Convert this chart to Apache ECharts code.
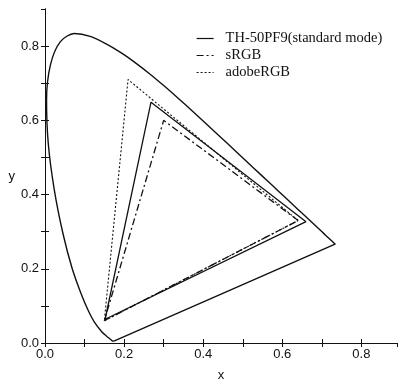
<!DOCTYPE html>
<html>
<head>
<meta charset="utf-8">
<script src="https://cdn.jsdelivr.net/npm/echarts@6/dist/echarts.min.js"></script>
<style>
  html, body { margin: 0; padding: 0; background: #fff; }
  #chart { width: 398px; height: 381px; }
</style>
</head>
<body>
<div id="chart"></div>
<script>
// spectral locus (CIE 1931), 380 -> 700 nm
const locusX = [0.1741, 0.1733, 0.1714, 0.1689, 0.1644, 0.1566, 0.1440, 0.1241, 0.1096, 0.0913,
  0.0687, 0.0454, 0.0235, 0.0082, 0.0039, 0.0139, 0.0389, 0.0743, 0.1142, 0.1547, 0.1929,
  0.2296, 0.2658, 0.3016, 0.3373, 0.3731, 0.4087, 0.4441, 0.4788, 0.5125, 0.5448, 0.5752,
  0.6029, 0.6270, 0.6482, 0.6658, 0.6915, 0.7079, 0.7190, 0.7260, 0.7300, 0.7334, 0.7347];
const locusY = [0.0050, 0.0048, 0.0051, 0.0069, 0.0109, 0.0177, 0.0297, 0.0578, 0.0868, 0.1327,
  0.2007, 0.2950, 0.4127, 0.5384, 0.6548, 0.7502, 0.8120, 0.8338, 0.8262, 0.8059, 0.7816,
  0.7543, 0.7243, 0.6923, 0.6589, 0.6245, 0.5896, 0.5547, 0.5202, 0.4866, 0.4544, 0.4242,
  0.3965, 0.3725, 0.3514, 0.3340, 0.3083, 0.2920, 0.2809, 0.2740, 0.2700, 0.2666, 0.2653];

// gamut triangles: R, G, B, back to R
const thX = [0.66, 0.268, 0.152, 0.66];
const thY = [0.327, 0.649, 0.064, 0.327];
const srgbX = [0.64, 0.30, 0.15, 0.64];
const srgbY = [0.33, 0.60, 0.06, 0.33];
const adobeX = [0.64, 0.21, 0.15, 0.64];
const adobeY = [0.33, 0.71, 0.06, 0.33];

const seriesNames = ['TH-50PF9(standard mode)', 'sRGB', 'adobeRGB'];

function pairs(xs, ys) {
  return xs.map((x, i) => [x, ys[i]]);
}

const locus = pairs(locusX, locusY);
locus.push(locus[0]); // close with the purple line

const axisFont = { fontFamily: 'Liberation Sans', fontSize: 13, color: '#111' };
const evenLabel = v => (Math.round(v * 10) % 2 === 0 ? v.toFixed(1) : '');

const chart = echarts.init(document.getElementById('chart'));
chart.setOption({
  animation: false,
  grid: { left: 45, right: 1, top: 9, bottom: 38, outerBoundsMode: 'none' },
  legend: {
    orient: 'vertical',
    left: 191,
    top: 26,
    itemWidth: 17,
    itemHeight: 10,
    itemGap: 2,
    itemStyle: { opacity: 0 },
    lineStyle: { width: 1.2 },
    textStyle: { fontFamily: 'Liberation Serif', fontSize: 14.5, color: '#111', padding: [0, 0, 0, 7] },
    data: seriesNames
  },
  xAxis: [{
    type: 'value', min: 0, max: 0.89, interval: 0.1,
    name: 'x', nameLocation: 'middle', nameGap: 26, nameTextStyle: axisFont,
    axisLine: { lineStyle: { color: '#111', width: 1 } },
    axisTick: { inside: true, length: 4, lineStyle: { color: '#111' } },
    axisLabel: Object.assign({ formatter: evenLabel, margin: 5, showMaxLabel: false }, axisFont),
    splitLine: { show: false }
  }, {
    type: 'value', position: 'top', min: 0, max: 0.89, interval: 0.1,
    axisLine: { show: true, lineStyle: { color: '#111', width: 1 } },
    axisTick: { inside: true, length: 4, lineStyle: { color: '#111' } },
    axisLabel: { show: false },
    splitLine: { show: false }
  }],
  yAxis: [{
    type: 'value', min: 0, max: 0.9, interval: 0.1,
    name: 'y', nameLocation: 'middle', nameGap: 29, nameRotate: 0, nameTextStyle: axisFont,
    axisLine: { show: true, lineStyle: { color: '#111', width: 1 } },
    axisTick: { show: true, inside: true, length: 4, lineStyle: { color: '#111' } },
    axisLabel: Object.assign({ formatter: evenLabel, margin: 6, showMaxLabel: false }, axisFont),
    splitLine: { show: false }
  }, {
    type: 'value', position: 'right', min: 0, max: 0.9, interval: 0.1,
    axisLine: { show: true, lineStyle: { color: '#111', width: 1 } },
    axisTick: { show: true, inside: true, length: 4, lineStyle: { color: '#111' } },
    axisLabel: { show: false },
    splitLine: { show: false }
  }],
  series: [{
    name: 'locus', type: 'line', data: locus, symbol: 'none', smooth: 0.3,
    lineStyle: { color: '#111', width: 1.4 }, silent: true
  }, {
    name: seriesNames[0], type: 'line', data: pairs(thX, thY), symbol: 'none',
    lineStyle: { color: '#111', width: 1.3 }, itemStyle: { color: '#111' }
  }, {
    name: seriesNames[1], type: 'line', data: pairs(srgbX, srgbY), symbol: 'none',
    lineStyle: { color: '#111', width: 1.3, type: [7, 3, 2, 3] }, itemStyle: { color: '#111' }
  }, {
    name: seriesNames[2], type: 'line', data: pairs(adobeX, adobeY), symbol: 'none',
    lineStyle: { color: '#111', width: 1.1, type: [2, 2] }, itemStyle: { color: '#111' }
  }]
});
</script>
</body>
</html>
